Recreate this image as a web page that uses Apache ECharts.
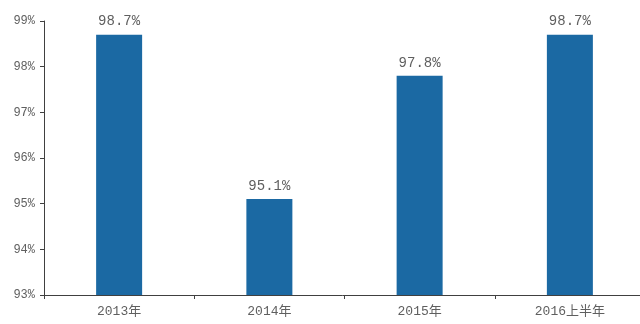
<!DOCTYPE html>
<html><head><meta charset="utf-8">
<script src="https://cdn.jsdelivr.net/npm/echarts@6/dist/echarts.min.js"></script>
<style>html,body{margin:0;padding:0;background:#fff}#c{width:640px;height:324px}</style>
</head><body><div id="c"></div>
<script>
const categories = ['2013年', '2014年', '2015年', '2016上半年'];
const values = [98.7, 95.1, 97.8, 98.7];
const yTicks = [93, 94, 95, 96, 97, 98, 99];

const chart = echarts.init(document.getElementById('c'), null, {renderer: 'canvas'});
const font = '"Liberation Mono", "Noto Sans CJK SC", monospace';
chart.setOption({
  animation: false,
  grid: {left: 44, top: 21, width: 601, height: 274, containLabel: false, outerBoundsMode: 'none'},
  xAxis: {
    type: 'category', data: categories,
    axisLine: {lineStyle: {color: '#404040', width: 1}},
    axisTick: {show: true, length: 4, inside: false, lineStyle: {color: '#404040'}},
    axisLabel: {color: '#5f5f5f', fontSize: 13, margin: 10, fontFamily: font}
  },
  yAxis: {
    type: 'value', min: yTicks[0], max: yTicks[yTicks.length - 1], interval: 1,
    axisLine: {show: true, lineStyle: {color: '#404040', width: 1}},
    axisTick: {show: true, length: 4, lineStyle: {color: '#404040'}},
    splitLine: {show: false},
    axisLabel: {color: '#5f5f5f', fontSize: 12, margin: 9, fontFamily: font, formatter: v => v + '%'}
  },
  series: [{
    type: 'bar', data: values, barWidth: 46,
    itemStyle: {color: '#1b69a3'},
    label: {show: true, position: 'top', distance: 6, color: '#5f5f5f', fontSize: 14, fontFamily: font,
      formatter: p => p.value.toFixed(1) + '%'}
  }]
});
</script></body></html>
